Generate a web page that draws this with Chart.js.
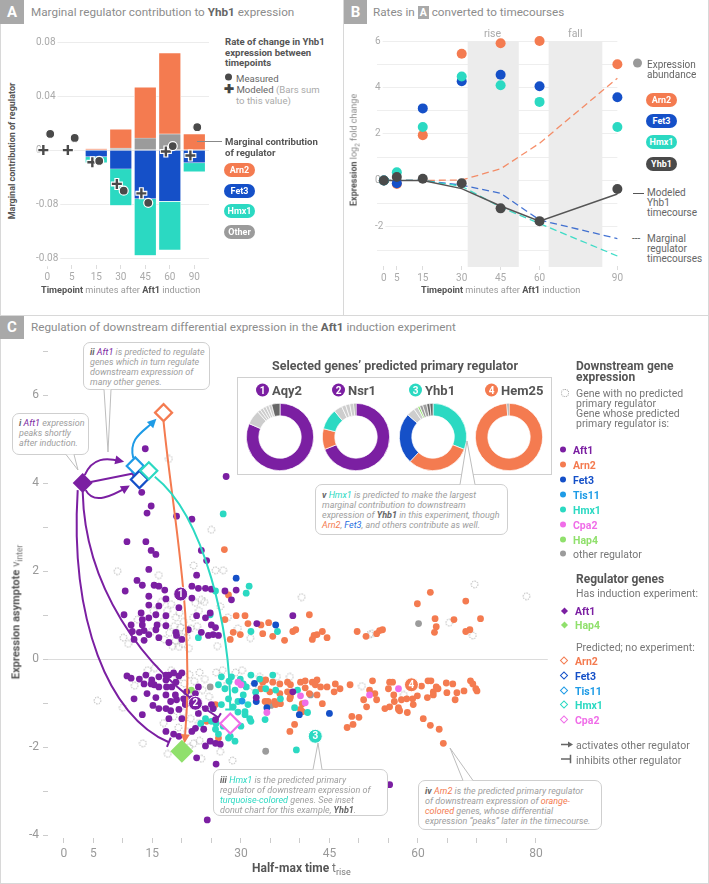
<!DOCTYPE html>
<html>
<head>
<meta charset="utf-8">
<script src="https://cdn.jsdelivr.net/npm/chart.js@4.4.1/dist/chart.umd.min.js"></script>
<style>
  body { margin: 0; background: #fff; font-family: Roboto, Inter, 'Liberation Sans', sans-serif; }
  #fig { position: relative; width: 709px; height: 884px; overflow: hidden; }
  canvas { position: absolute; }
  .t { position: absolute; white-space: nowrap; transform: translateY(-50%); }
  .vt { position: absolute; white-space: nowrap; transform: translate(-50%, -50%) rotate(-90deg); }
  .hdr { position: absolute; background: #a9a9a9; color: #fff; font-weight: 700; font-size: 15px; text-align: center; width: 24px; height: 24px; line-height: 24px; }
  .ptitle { position: absolute; font-size: 11.7px; color: #8c8c8c; white-space: nowrap; transform: translateY(-50%); }
  .pill { position: absolute; width: 31px; height: 14px; border-radius: 7px; color: #fff; font-weight: 700; font-size: 9px; text-align: center; line-height: 14px; }
  .note { position: absolute; box-sizing: border-box; border: 1px solid #cfcfcf; border-radius: 7px; background: #fff; font-style: italic; font-size: 9px; color: #9e9e9e; line-height: 10px; padding: 5px 6px; white-space: nowrap; }
  .note b { color: #666; }
  .line { position: absolute; background: #d8d8d8; }
  .dot { display: inline-block; width: 6px; height: 6px; border-radius: 3px; margin-right: 7px; vertical-align: 1px; }
  .dia { display: inline-block; width: 5px; height: 5px; transform: rotate(45deg); margin: 0 8px 0 2px; vertical-align: 1px; box-sizing: border-box; }
  .lg { font-size: 10.5px; color: #777; }
  .lgb { font-size: 12px; font-weight: 700; color: #555; }
</style>
</head>
<body>
<div id="fig">
  <!-- frame -->
  <div class="line" style="left:0;top:0;width:1px;height:884px"></div>
  <div class="line" style="left:708px;top:0;width:1px;height:884px"></div>
  <div class="line" style="left:0;top:883px;width:709px;height:1px"></div>
  <div class="line" style="left:343px;top:0;width:1px;height:315px"></div>
  <div class="line" style="left:0;top:315px;width:709px;height:1px"></div>

  <!-- panel A -->
  <div class="hdr" style="left:0;top:0">A</div>
  <div class="ptitle" style="left:31px;top:12px">Marginal regulator contribution to <b style="color:#666">Yhb1</b> expression</div>
  <canvas id="chartA" width="196" height="260" style="left:24px;top:25px"></canvas>
  <div class="vt" style="left:12px;top:151px;font-size:9px;font-weight:700;color:#555">Marginal contribution of regulator</div>
  <div class="t" style="left:41px;top:289px;font-size:9.2px;color:#999"><b style="color:#555">Timepoint</b> minutes after <b style="color:#555">Aft1</b> induction</div>
  <div class="t" style="left:225px;top:53px;font-size:9.6px;font-weight:700;color:#555;line-height:10.5px">Rate of change in Yhb1<br>expression between<br>timepoints</div>
  <div class="t" style="left:225px;top:78px;font-size:9.6px;color:#666"><span class="dot" style="background:#4a4a4a;width:7px;height:7px;border-radius:4px;margin-right:4px"></span>Measured</div>
  <div class="t" style="left:224px;top:95px;font-size:9.6px;color:#666;line-height:10.5px"><b style="color:#444;font-size:12px">✚</b> Modeled <span style="color:#aaa">(Bars sum</span><br><span style="color:#aaa;padding-left:12px">to this value)</span></div>
  <div class="line" style="left:197px;top:141px;width:25px;height:1px;background:#888"></div>
  <div class="t" style="left:225px;top:147px;font-size:9.6px;font-weight:700;color:#555;line-height:10.5px">Marginal contribution<br>of regulator</div>
  <div class="pill" style="left:224px;top:163px;background:#f47b50">Arn2</div>
  <div class="pill" style="left:224px;top:184px;background:#1550c8">Fet3</div>
  <div class="pill" style="left:224px;top:204px;background:#2bd9c2">Hmx1</div>
  <div class="pill" style="left:224px;top:225px;background:#9b9b9b">Other</div>

  <!-- panel B -->
  <div class="hdr" style="left:344px;top:0;width:23px">B</div>
  <div class="ptitle" style="left:373px;top:12px">Rates in <span style="background:#a9a9a9;color:#fff;font-weight:700;padding:0 2px;font-size:10.5px">A</span> converted to timecourses</div>
  <canvas id="chartB" width="280" height="261" style="left:345px;top:25px"></canvas>
  <div class="t" style="left:484px;top:33px;font-size:10.5px;color:#aaa">rise</div>
  <div class="t" style="left:568px;top:33px;font-size:10.5px;color:#aaa">fall</div>
  <div class="vt" style="left:355px;top:150px;font-size:9px;color:#888"><b style="color:#555">Expression</b> log<sub style="font-size:6.5px">2</sub> fold change</div>
  <div class="t" style="left:421px;top:289px;font-size:9.2px;color:#999"><b style="color:#555">Timepoint</b> minutes after <b style="color:#555">Aft1</b> induction</div>
  <div class="t" style="left:633px;top:69px;font-size:10px;color:#666;line-height:10px"><span class="dot" style="background:#999;width:9px;height:9px;border-radius:5px;margin-right:5px;vertical-align:10px"></span><span style="display:inline-block">Expression<br>abundance</span></div>
  <div class="pill" style="left:646px;top:93px;background:#f47b50">Arn2</div>
  <div class="pill" style="left:646px;top:114px;background:#1550c8">Fet3</div>
  <div class="pill" style="left:646px;top:135px;background:#2bd9c2">Hmx1</div>
  <div class="pill" style="left:646px;top:157px;background:#4a4a4a">Yhb1</div>
  <div class="line" style="left:633px;top:193px;width:11px;height:1px;background:#555"></div>
  <div class="t" style="left:647px;top:203px;font-size:10px;color:#666;line-height:10px">Modeled<br>Yhb1<br>timecourse</div>
  <div class="t" style="left:632px;top:238px;font-size:10px;color:#555">---</div>
  <div class="t" style="left:647px;top:249px;font-size:10px;color:#666;line-height:10px">Marginal<br>regulator<br>timecourses</div>

  <!-- panel C -->
  <div class="hdr" style="left:0;top:316px;height:23px;line-height:23px">C</div>
  <div class="ptitle" style="left:31px;top:327px">Regulation of downstream differential expression in the <b style="color:#666">Aft1</b> induction experiment</div>
  <canvas id="chartC" width="560" height="550" style="left:0;top:330px"></canvas>
  <div class="vt" style="left:17px;top:612px;font-size:11px;color:#777"><b style="color:#555">Expression asymptote</b> v<sub style="font-size:8.5px">inter</sub></div>
  <div class="t" style="left:252px;top:869px;font-size:12px;color:#777"><b style="color:#555">Half-max time</b> t<sub style="font-size:9px">rise</sub></div>

  <div class="t" style="left:272px;top:365px;font-size:12.5px;font-weight:700;color:#555">Selected genes’ predicted primary regulator</div>
  <div style="position:absolute;left:237px;top:377px;width:315px;height:98px;border:1px solid #d0d0d0;box-sizing:border-box"></div>
  <canvas id="donut1" width="70" height="70" style="left:245px;top:402px"></canvas>
  <canvas id="donut2" width="70" height="70" style="left:321px;top:402px"></canvas>
  <canvas id="donut3" width="70" height="70" style="left:398px;top:402px"></canvas>
  <canvas id="donut4" width="70" height="70" style="left:474px;top:402px"></canvas>
  <div id="donutLabels"></div>

  <!-- notes -->
  <div class="note" style="left:12px;top:413px;width:77px;height:42px;padding-top:4px"><b>i</b> <span style="color:#7b1fa2">Aft1</span> expression<br>peaks shortly<br>after induction.</div>
  <div class="note" style="left:83px;top:342px;width:127px;height:48px;padding-top:4px"><b>ii</b> <span style="color:#7b1fa2">Aft1</span> is predicted to regulate<br>genes which in turn regulate<br>downstream expression of<br>many other genes.</div>
  <div class="note" style="left:315px;top:484px;width:193px;height:51px;padding-top:5px"><b>v</b> <span style="color:#2bd9c2">Hmx1</span> is predicted to make the largest<br>marginal contribution to downstream<br>expression of <b>Yhb1</b> in this experiment, though<br><span style="color:#f47b50">Arn2</span>, <span style="color:#1e6be0">Fet3</span>, and others contribute as well.</div>
  <div class="note" style="left:213px;top:769px;width:175px;height:47px;padding-top:5px"><b>iii</b> <span style="color:#2bd9c2">Hmx1</span> is the predicted primary<br>regulator of downstream expression of<br><span style="color:#2bd9c2">turquoise-colored</span> genes. See inset<br>donut chart for this example, <b>Yhb1</b>.</div>
  <div class="note" style="left:418px;top:780px;width:184px;height:50px;padding-top:5px"><b>iv</b> <span style="color:#f47b50">Arn2</span> is the predicted primary regulator<br>of downstream expression of <span style="color:#f47b50">orange-</span><br><span style="color:#f47b50">colored</span> genes, whose differential<br>expression “peaks” later in the timecourse.</div>
  <svg width="709" height="884" style="position:absolute;left:0;top:0;pointer-events:none">
    <g fill="#fff" stroke="#bdbdbd" stroke-width="1">
      <path d="M66 454.5 L78 470 L74 454.5"/>
      <path d="M104 389.5 L108 452 L111 389.5"/>
      <path d="M460 484.5 L467 441 L475 484.5"/>
      <path d="M313 769.5 L318 743 L322 769.5"/>
      <path d="M463 780.5 L450 748 L473 780.5"/>
    </g>
  </svg>

  <!-- legend C -->
  <div class="t lgb" style="left:576px;top:372px;line-height:11px">Downstream gene<br>expression</div>
  <div class="t lg" style="left:561px;top:399px;line-height:10px"><span style="display:inline-block;width:6px;height:6px;border:1px dotted #999;border-radius:4px;margin-right:7px;vertical-align:10px"></span><span style="display:inline-block">Gene with no predicted<br>primary regulator</span></div>
  <div class="t lg" style="left:576px;top:419px;line-height:10px">Gene whose predicted<br>primary regulator is:</div>
  <div id="geneLegend"></div>
  <div class="t lgb" style="left:576px;top:579px">Regulator genes</div>
  <div class="t lg" style="left:576px;top:593px">Has induction experiment:</div>
  <div class="t lg" style="left:576px;top:647px">Predicted; no experiment:</div>
  <div id="regLegend"></div>
  <div class="t lg" style="left:561px;top:745px"><svg width="12" height="8" style="margin-right:3px"><path d="M0 4 H8" stroke="#666" stroke-width="1.5"/><path d="M12 4 L7 1 L7 7 Z" fill="#666"/></svg>activates other regulator</div>
  <div class="t lg" style="left:561px;top:760px"><svg width="12" height="9" style="margin-right:3px"><path d="M0 4.5 H9" stroke="#666" stroke-width="1.5"/><path d="M9.5 0 V9" stroke="#666" stroke-width="1.5"/></svg>inhibits other regulator</div>
</div>

<script>
// colours
const PURPLE = '#7b1fa2', ORANGE = '#f47b50', BLUE = '#1550c8', LBLUE = '#1e9be6',
      TEAL = '#2bd9c2', PINK = '#f06de8', GREEN = '#90e06c', GRAY = '#9b9b9b', DARK = '#4a4a4a';
const regColor = { Aft1: PURPLE, Arn2: ORANGE, Fet3: BLUE, Tis11: LBLUE, Hmx1: TEAL, Cpa2: PINK, Hap4: GREEN,
                   other: '#cdcdcd', other2: '#9d9d9d', other3: '#666' };

// ---------- Panel A data ----------
const timepointLabels = ['0', '5', '15', '30', '45', '60', '90'];
const contribOther = [0, 0, 0, 0.0015, 0.009, 0.012, 0];
const contribArn2  = [0, 0, 0.001, 0.014, 0.0377, 0.06, 0.012];
const contribFet3  = [0, 0, -0.005, -0.014, -0.036, -0.038, -0.0095];
const contribHmx1  = [0, 0, -0.0045, -0.027, -0.042, -0.036, -0.0065];
const measuredRate = [0.012, 0.009, -0.008, -0.030, -0.039, 0.003, 0.017];
const modeledRate  = [0, 0, -0.009, -0.025, -0.032, -0.001, -0.004];
const yTickValuesA = [0.08, 0.04, 0, -0.04, -0.08];
const yTickLabelsA = ['0.08', '0.04', '0', '-0.08', '-0.08'];

// ---------- Panel B data ----------
const bTimes = [0, 5, 15, 30, 45, 60, 90];
const arn2Abund = [0, -0.15, 1.95, 5.45, 5.9, 6.0, 5.0];
const fet3Abund = [0, -0.12, 3.1, 4.27, 4.55, 4.05, 3.58];
const hmx1Abund = [0, 0.35, 2.3, 4.47, 4.1, 3.38, 2.3];
const yhb1Abund = [0, 0.15, 0.07, -0.12, -1.2, -1.75, -0.37];
const modeledYhb1  = [0, 0, 0, -0.35, -1.1, -1.75, -0.58];
const marginalArn2 = [0, 0, 0, 0.02, 0.5, 1.6, 4.4];
const marginalFet3 = [0, 0, 0, -0.2, -0.55, -1.7, -2.5];
const marginalHmx1 = [0, 0, 0, -0.25, -1.15, -1.85, -3.25];
const riseWindow = [32.3, 52];
const fallWindow = [63.5, 84.2];

// ---------- Panel C data ([t_rise, v_inter]) ----------
const aft1Genes = [[13.8,4.78],[27.5,4.15],[13.2,3.79],[14.8,3.48],[14.1,3.32],[19.1,3.25],[21.7,3.18],[10.7,2.67],[13.9,2.67],
  [14.8,2.47],[15.6,2.38],[23.3,2.47],[24.2,2.24],[14.4,2.04],[22.5,1.91],[12.4,1.79],[13.3,1.68],[10.4,1.55],[15.3,1.68],
  [16.1,1.66],[17.1,1.57],[14.4,1.43],[17.3,1.37],[21.7,1.66],[22.8,1.61],[24.0,1.61],[25.0,1.59],[21.7,1.39],[19.5,1.17],
  [14.4,1.23],[16.1,1.21],[10.2,1.01],[13.1,1.05],[15.6,1.01],[17.3,0.99],[13.3,0.90],[14.4,0.94],[11.4,0.78],[13.3,0.78],
  [15.8,0.78],[17.3,0.76],[11.6,0.63],[13.6,0.65],[14.4,0.56],[15.6,0.67],[19.0,0.61],[13.6,0.43],[24.0,0.94],[25.0,0.78],
  [25.7,0.72],[23.3,0.61],[25.3,0.56],[24.8,1.05],[27.3,1.55],[28.4,1.35],[22.5,0.99],[21.1,0.67],[20.0,0.45],[19.1,0.54],
  [24.5,0.54],[26.2,0.54],[17.8,0.38],[16.1,0.49],[12.8,0.61],[11.9,0.45],[29.2,1.57],[38.8,0.99],[32.7,0.81],
  [10.7,-0.38],[11.4,-0.43],[12.8,-0.45],[13.9,-0.36],[13.6,-0.56],[14.9,-0.47],[15.3,-0.58],[16.1,-0.40],[16.1,-0.63],
  [17.3,-0.47],[17.8,-0.36],[18.6,-0.31],[19.5,-0.38],[20.0,-0.31],[19.0,-0.52],[18.3,-0.63],[11.9,-0.90],[14.1,-0.78],
  [15.6,-0.87],[17.3,-0.81],[18.1,-0.96],[19.1,-0.92],[15.1,-1.05],[16.1,-1.12],[18.1,-1.17],[19.5,-1.14],[13.3,-1.26],
  [20.6,-1.01],[21.7,-0.90],[22.8,-0.63],[22.3,-0.78],[20.8,-0.74],[24.0,-1.12],[25.0,-1.03],[25.7,-1.37],[23.7,-1.59],
  [21.7,-1.64],[17.3,-1.64],[18.6,-1.70],[19.5,-1.75],[24.8,-1.86],[24.0,-1.97],[26.5,-1.93],[22.5,-2.24],[25.8,-2.38],
  [24.3,-3.65],[17.3,-0.36],[14.8,-0.56],[17.4,-0.63],[18.9,-0.81],[20.3,-0.90],[17.3,-1.12],[20.6,-1.03],[22.8,-1.23],
  [25.3,-1.12],[25.7,-1.91],[22.3,-1.57],[17.8,-1.35],[20.0,-1.35],[38.8,-0.74],[32.6,-0.87],[55.2,-2.85]];
const arn2Genes = [[41.6,1.01],[34.7,0.83],[33.7,0.58],[35.4,0.52],[37.4,0.43],[38.8,0.63],[39.3,0.67],[42.1,0.45],[42.9,0.56],
  [43.8,0.63],[44.6,0.49],[42.4,0.54],[49.7,0.63],[51.2,0.52],[53.0,0.58],[53.5,0.65],[54.0,0.67],[31.2,0.81],[27.2,2.49],
  [27.9,1.46],[29.2,0.99],[27.3,0.90],[28.7,0.61],[29.9,0.56],[28.2,0.45],[30.7,0.99],[33.4,0.78],[62.1,1.52],[59.9,1.26],
  [68.1,1.32],[62.9,0.92],[63.1,0.74],[62.8,0.61],[66.1,0.90],[70.6,0.92],[68.1,0.63],[68.8,0.67],
  [33.7,-0.52],[34.2,-0.47],[35.4,-0.52],[36.6,-0.56],[37.9,-0.52],[38.4,-0.58],[40.1,-0.52],[40.9,-0.49],[42.1,-0.52],
  [42.9,-0.47],[42.6,-0.58],[43.5,-0.63],[44.6,-0.63],[46.0,-0.56],[46.8,-0.67],[48.5,-0.58],[33.4,-0.67],[34.9,-0.74],
  [36.6,-0.78],[37.9,-0.74],[40.9,-0.65],[41.6,-0.78],[42.9,-0.81],[45.8,-0.74],[34.6,-0.96],[36.7,-1.01],[35.9,-1.03],
  [38.3,-0.90],[40.4,-1.01],[43.8,-1.01],[40.1,-1.14],[39.1,-1.48],[38.3,-1.64],[48.0,-1.55],[49.0,-1.48],[50.0,-1.32],
  [52.3,-0.49],[51.8,-0.70],[52.7,-0.78],[50.8,-0.92],[51.3,-1.08],[53.0,-0.92],[54.4,-1.12],[55.2,-0.52],[55.7,-0.52],
  [55.0,-0.67],[55.9,-0.81],[56.0,-0.96],[55.2,-1.08],[56.7,-1.10],[56.9,-1.17],[61.7,-0.49],[62.2,-0.49],[64.8,-0.54],
  [65.9,-0.56],[68.9,-0.49],[69.3,-0.56],[69.8,-0.67],[70.0,-0.72],[60.6,-0.61],[63.1,-0.63],[63.4,-0.67],[62.6,-0.74],
  [64.9,-0.76],[66.6,-0.76],[67.8,-0.72],[61.6,-0.87],[62.6,-0.81],[66.3,-0.92],[59.9,-0.83],[59.1,-0.90],[57.2,-0.92],
  [58.1,-0.90],[59.2,-1.03],[56.7,-1.14],[58.2,-1.21],[60.9,-1.35],[62.1,-1.50],[63.6,-1.59],[64.3,-1.91],[24.2,-1.41],
  [26.2,-1.79],[25.7,-1.03],[34.1,-0.96],[35.7,-0.96],[38.4,-0.85],[40.4,-1.19],[48.8,-1.30]];
const fet3Genes = [[29.2,1.84],[35.9,0.78],[32.6,-0.96],[34.4,-1.10],[39.9,-1.26],[45.0,-1.23],[32.3,-0.55]];
const tis11Genes = [[30.2,-0.95]];
const hmx1Genes = [[27.0,3.30],[31.4,1.66],[30.9,1.50],[25.7,1.55],[24.8,1.01],[22.8,0.49],[31.7,0.63],[36.2,0.63],
  [26.7,-0.40],[28.4,-0.40],[29.9,-0.45],[30.4,-0.56],[26.2,-0.58],[27.3,-0.67],[29.0,-0.70],[30.4,-0.81],[27.9,-0.90],
  [29.5,-0.96],[31.2,-1.03],[25.3,-1.12],[26.7,-1.03],[28.7,-1.08],[30.7,-1.19],[24.0,-1.35],[25.8,-1.46],[25.7,-1.59],
  [27.0,-1.52],[30.0,-1.52],[28.2,-1.75],[29.0,-1.86],[23.2,-1.46],[31.7,-0.36],[30.9,-0.63],[25.0,-1.41],[26.2,-1.70],
  [27.9,-1.79],[31.5,-1.35],[30.7,-1.26],[34.1,-1.37],[35.4,-0.36],[33.2,-0.45],[34.2,-0.67],[35.9,-0.70],[36.7,-0.90],
  [39.1,-1.10],[41.3,-1.21],[31.7,-1.41],[39.4,-2.06],[39.6,-0.70],[32.5,-0.75],[28.0,-0.50],[29.5,-1.20]];
const cpa2Genes = [[40.1,-0.83],[40.9,-0.99],[34.4,-1.21],[51.8,-0.81],[56.7,-0.67],[29.5,-0.52],[30.0,-0.58]];
const hap4Genes = [[21.6,-0.70]];
const otherGenes = [[60.1,0.81],[41.8,-0.81],[35.1,-1.05],[34.2,-2.09],[24.8,-0.63],[19.9,-2.2]];
const noRegGenes = [[17.8,4.55],[25.0,2.94],[9.1,2.0],[16.1,1.91],[22.0,2.13],[25.7,2.02],[27.0,2.02],[22.3,1.28],[23.3,1.35],
  [40.3,1.41],[5.7,-0.94],[13.4,-1.91],[23.3,-2.26],[10.1,0.49],[22.0,-1.91],[69.6,1.70],[78.4,1.43],[65.3,0.83],[69.3,0.54],
  [50.5,-0.61],[57.6,-0.81],[52.2,0.58],[33.2,-0.40],[36.1,-0.40],[38.3,-0.40],[51.8,0.56],
  [16.5,1.3],[17.5,1.1],[18.2,1.25],[19.0,0.95],[19.6,1.05],[20.3,0.85],[18.7,0.75],[17.9,0.6],[19.3,0.55],[20.8,0.5],
  [21.5,0.7],[20.1,0.35],[18.4,0.3],[17.0,0.45],[21.9,0.95],[22.6,0.75],[19.8,0.72],[18.9,0.42],[20.6,0.62],[16.8,0.85],
  [21.2,0.25],[19.5,0.28],[22.9,1.1],[23.8,1.3],[15.2,1.1],[14.8,0.62],[12.5,0.9],[10.9,0.35],[26.5,1.2],[27.8,0.95],
  [26.0,0.3],[29.5,0.7],[31.6,0.48],
  [18.2,-0.25],[19.2,-0.45],[20.4,-0.55],[21.3,-0.35],[22.1,-0.5],[23.0,-0.3],[23.9,-0.45],[21.0,-0.8],[22.4,-0.95],
  [23.5,-0.7],[24.6,-0.85],[20.2,-1.2],[21.5,-1.35],[22.9,-1.45],[19.4,-1.55],[18.6,-1.3],[16.9,-1.45],[25.8,-0.3],
  [26.9,-0.25],[27.8,-0.55],[29.1,-0.3],[30.2,-0.25],[32.0,-0.62],[20.9,-1.65],[23.0,-1.85],[21.2,-2.0],[17.6,-2.15],
  [15.4,-0.2],[14.2,-0.25],[12.0,-0.6],[10.0,-1.1],[26.5,-2.1],[28.6,-2.3]];

// regulator genes
const regulatorNames = ['Aft1', 'Tis11', 'Fet3', 'Hmx1', 'Arn2', 'Hap4', 'Cpa2'];
const regulatorTrise = [3.2, 12.1, 12.8, 14.4, 16.9, 20.0, 28.2];
const regulatorVinter = [4.0, 4.39, 4.08, 4.28, 5.6, -2.09, -1.46];
const hasExperiment = [true, false, false, false, false, true, false];
// regulatory links: [from, to, kind]
const regulatorEdges = [
  ['Aft1', 'Tis11', 'act'], ['Aft1', 'Hmx1', 'act'], ['Aft1', 'Fet3', 'act'], ['Tis11', 'Arn2', 'act'],
  ['Arn2', 'Hap4', 'act'], ['Hmx1', 'Cpa2', 'inh'], ['Aft1', 'Hap4', 'inh'], ['Aft1', 'Cpa2', 'inh']];

// numbered example genes
const exampleNames = ['Aqy2', 'Nsr1', 'Yhb1', 'Hem25'];
const exampleRegulator = ['Aft1', 'Aft1', 'Hmx1', 'Arn2'];
const exampleTrise = [19.8, 22.3, 42.6, 58.9];
const exampleVinter = [1.48, -1.0, -1.75, -0.58];

// donut slices (share %, regulator)
const aqy2Share = [81.5, 7, 1.5, 1.5, 1.5, 1.5, 1.5, 4];
const aqy2Regs = ['Aft1', 'other', 'other', 'other', 'other', 'other', 'other', 'other3'];
const nsr1Share = [69, 10, 10, 4, 2, 2, 2, 1];
const nsr1Regs = ['Aft1', 'Arn2', 'Hmx1', 'other', 'other', 'other', 'other', 'other2'];
const yhb1Share = [31, 31, 24.5, 4, 2, 1, 1.5, 2, 1.5, 1.5];
const yhb1Regs = ['Hmx1', 'Arn2', 'Fet3', 'other', 'other', 'Hap4', 'other2', 'other2', 'other3', 'other3'];
const hem25Share = [99, 1];
const hem25Regs = ['Arn2', 'other2'];

Chart.defaults.font.family = 'Roboto, Inter, sans-serif';
Chart.defaults.animation = false;
Chart.defaults.events = [];
Chart.defaults.plugins.legend.display = false;
Chart.defaults.plugins.tooltip.enabled = false;

// ================= Panel A =================
const idx = timepointLabels.map((_, i) => i);
const barSet = (label, vals, color) => ({
  type: 'bar', label, data: idx.map(i => ({ x: i, y: vals[i] })), backgroundColor: color,
  borderColor: '#fff', borderWidth: 0.7, barThickness: 22, stack: 'bars', clip: false
});
new Chart(document.getElementById('chartA'), {
  data: {
    datasets: [
      { type: 'scatter', label: 'Measured', data: idx.map(i => ({ x: i + 0.12, y: measuredRate[i] })),
        pointRadius: 4.5, backgroundColor: DARK, borderColor: '#fff', borderWidth: 1.2, stack: 'm', clip: false },
      { type: 'scatter', label: 'Modeled', data: idx.map(i => ({ x: i - 0.16, y: modeledRate[i] })),
        pointStyle: 'cross', pointRadius: 5, borderColor: DARK, borderWidth: 2.4, stack: 'p', clip: false },
      { type: 'scatter', label: 'Modeled outline', data: idx.map(i => ({ x: i - 0.16, y: modeledRate[i] })),
        pointStyle: 'cross', pointRadius: 6, borderColor: '#fff', borderWidth: 5, stack: 'q', clip: false },
      barSet('Other', contribOther, GRAY),
      barSet('Fet3', contribFet3, BLUE),
      barSet('Arn2', contribArn2, ORANGE),
      barSet('Hmx1', contribHmx1, TEAL)
    ]
  },
  options: {
    responsive: false,
    layout: { padding: { top: 17, right: 2, left: 0, bottom: 0 } },
    scales: {
      x: { type: 'linear', min: -0.5, max: 6.6, stacked: true, offset: false,
        afterBuildTicks: ax => { ax.ticks = idx.map(v => ({ value: v })); },
        ticks: { autoSkip: false, maxRotation: 0, color: '#aaa', font: { size: 10 }, padding: 2,
          callback: (v, i) => timepointLabels[i] },
        grid: { offset: false, drawOnChartArea: false, tickLength: 4, tickColor: '#ddd' }, border: { display: false },
        afterFit: s => { s.height = 20; } },
      y: { min: -0.085, max: 0.08, stacked: true,
        afterBuildTicks: ax => { ax.ticks = yTickValuesA.map(v => ({ value: v })); },
        ticks: { mirror: true, padding: 1, color: '#aaa', font: { size: 10 },
          showLabelBackdrop: true, backdropColor: '#fff', backdropPadding: 2,
          callback: (v, i) => yTickLabelsA[i] },
        grid: { color: '#ececec', drawTicks: false }, border: { display: false },
        afterFit: s => { s.width = 4; } }
    }
  }
});

// ================= Panel B =================
const pts = vals => bTimes.map((t, i) => ({ x: t, y: vals[i] }));
const abundSet = (label, vals, color) => ({ type: 'scatter', label, data: pts(vals), pointRadius: 5,
  backgroundColor: color, borderWidth: 0, clip: false });
const dashSet = (label, vals, color) => ({ type: 'line', label, data: pts(vals), borderColor: color,
  borderWidth: 1.3, borderDash: [7, 4], pointRadius: 0, fill: false, clip: false });
const shadeB = {
  id: 'shadeB',
  beforeDatasetsDraw(chart) {
    const { ctx, chartArea, scales: { x, y } } = chart;
    ctx.save();
    ctx.fillStyle = '#ececec';
    for (const [a, b] of [riseWindow, fallWindow]) {
      const x0 = x.getPixelForValue(a), x1 = x.getPixelForValue(b), y0 = y.getPixelForValue(6);
      ctx.fillRect(x0, y0, x1 - x0, chartArea.bottom + 1 - y0);
    }
    ctx.restore();
  }
};
new Chart(document.getElementById('chartB'), {
  data: {
    datasets: [
      abundSet('Yhb1', yhb1Abund, DARK),
      abundSet('Hmx1', hmx1Abund, TEAL),
      abundSet('Fet3', fet3Abund, BLUE),
      abundSet('Arn2', arn2Abund, ORANGE),
      { type: 'line', label: 'Modeled Yhb1', data: pts(modeledYhb1), borderColor: '#555', borderWidth: 1.5,
        pointRadius: 0, fill: false, clip: false },
      dashSet('Marginal Hmx1', marginalHmx1, 'rgba(43,217,194,0.9)'),
      dashSet('Marginal Fet3', marginalFet3, 'rgba(21,80,200,0.8)'),
      dashSet('Marginal Arn2', marginalArn2, 'rgba(244,123,80,0.85)')
    ]
  },
  options: {
    responsive: false,
    layout: { padding: { top: 16, right: 7, left: 0, bottom: 0 } },
    scales: {
      x: { type: 'linear', min: -3.8, max: 90,
        afterBuildTicks: ax => { ax.ticks = bTimes.map(v => ({ value: v })); },
        ticks: { autoSkip: false, maxRotation: 0, color: '#aaa', font: { size: 10 }, padding: 2 },
        grid: { drawOnChartArea: false, tickLength: 4, tickColor: '#ddd' }, border: { display: false },
        afterFit: s => { s.height = 20; } },
      y: { type: 'linear', min: -3.68, max: 6,
        afterBuildTicks: ax => { ax.ticks = []; for (let v = -3; v <= 6; v++) ax.ticks.push({ value: v }); },
        ticks: { mirror: true, padding: 1, color: '#aaa', font: { size: 10 },
          showLabelBackdrop: true, backdropColor: '#fff', backdropPadding: 2,
          callback: v => (v % 2 === 0 ? String(v) : '') },
        grid: { color: '#eeeeee', drawTicks: false }, border: { display: false },
        afterFit: s => { s.width = 29; } }
    }
  },
  plugins: [shadeB]
});

// ================= Panel C =================
const dotted = document.createElement('canvas');
dotted.width = 9; dotted.height = 9;
{
  const g = dotted.getContext('2d');
  g.setLineDash([1.3, 1.3]);
  g.strokeStyle = '#9a9a9a';
  g.lineWidth = 0.9;
  g.beginPath(); g.arc(4.5, 4.5, 3.4, 0, Math.PI * 2); g.stroke();
}
const xy = arr => arr.map(([x, y]) => ({ x, y }));
const geneSet = (label, arr, color) => ({ type: 'scatter', label, data: xy(arr), pointRadius: 3.4,
  backgroundColor: color, borderWidth: 0 });

// curve geometry (pixel offsets: start, end, control handles)
const edgeShape = {
  'Aft1>Tis11': { s: [2, -8], e: [-15, -5], c1: [8, -18], c2: [-14, -3] },
  'Aft1>Hmx1': { s: [8, -1], e: [-12, 2], c1: [0, 0], c2: [0, 0] },
  'Aft1>Fet3': { s: [3, 7], e: [-13, 8], c1: [8, 15], c2: [-14, 8] },
  'Tis11>Arn2': { s: [-2, -8], e: [-10, 9], c1: [-5, -20], c2: [-10, 10] },
  'Arn2>Hap4': { s: [0, 9], e: [3, -12], c1: [10, 100], c2: [10, -120] },
  'Hmx1>Cpa2': { s: [6, 6], e: [0, -14], c1: [50, 40], c2: [0, -80] },
  'Aft1>Hap4': { s: [-5, 7], e: [-13, -9], c1: [-8, 130], c2: [-60, -25] },
  'Aft1>Cpa2': { s: [0, 9], e: [-12, -6], c1: [2, 90], c2: [-80, -50] }
};
const regPix = (chart, name) => {
  const i = regulatorNames.indexOf(name);
  return [chart.scales.x.getPixelForValue(regulatorTrise[i]), chart.scales.y.getPixelForValue(regulatorVinter[i])];
};
const networkPlugin = {
  id: 'network',
  afterDatasetDraw(chart, args) {
    if (args.index !== 1) return;
    const ctx = chart.ctx;
    ctx.save();
    ctx.lineWidth = 2;
    for (const [from, to, kind] of regulatorEdges) {
      const sh = edgeShape[from + '>' + to];
      const [fx, fy] = regPix(chart, from), [tx, ty] = regPix(chart, to);
      const sx = fx + sh.s[0], sy = fy + sh.s[1], ex = tx + sh.e[0], ey = ty + sh.e[1];
      const c1x = sx + sh.c1[0], c1y = sy + sh.c1[1], c2x = ex + sh.c2[0], c2y = ey + sh.c2[1];
      const col = regColor[from];
      ctx.strokeStyle = col; ctx.fillStyle = col;
      ctx.beginPath(); ctx.moveTo(sx, sy); ctx.bezierCurveTo(c1x, c1y, c2x, c2y, ex, ey); ctx.stroke();
      let dx = ex - c2x, dy = ey - c2y;
      if (Math.abs(dx) + Math.abs(dy) < 0.01) { dx = ex - sx; dy = ey - sy; }
      const len = Math.hypot(dx, dy), ux = dx / len, uy = dy / len;
      if (kind === 'act') {
        ctx.beginPath();
        ctx.moveTo(ex + ux * 4, ey + uy * 4);
        ctx.lineTo(ex - ux * 5 - uy * 4.5, ey - uy * 5 + ux * 4.5);
        ctx.lineTo(ex - ux * 5 + uy * 4.5, ey - uy * 5 - ux * 4.5);
        ctx.closePath(); ctx.fill();
      } else {
        ctx.beginPath();
        ctx.moveTo(ex - uy * 5, ey + ux * 5);
        ctx.lineTo(ex + uy * 5, ey - ux * 5);
        ctx.stroke();
      }
    }
    ctx.restore();
  },
  afterDatasetsDraw(chart) {
    const { ctx, scales: { x, y } } = chart;
    ctx.save();
    exampleNames.forEach((n, i) => {
      const px = x.getPixelForValue(exampleTrise[i]), py = y.getPixelForValue(exampleVinter[i]);
      ctx.fillStyle = regColor[exampleRegulator[i]];
      ctx.strokeStyle = '#fff'; ctx.lineWidth = 1;
      ctx.beginPath(); ctx.arc(px, py, 7, 0, Math.PI * 2); ctx.fill(); ctx.stroke();
      ctx.fillStyle = '#fff'; ctx.font = 'bold 10px Roboto, sans-serif';
      ctx.textAlign = 'center'; ctx.textBaseline = 'middle';
      ctx.fillText(String(i + 1), px, py + 0.5);
    });
    ctx.restore();
  }
};
const cXLabels = [0, 5, 15, 30, 45, 60, 80];
new Chart(document.getElementById('chartC'), {
  data: {
    datasets: [
      { type: 'scatter', label: 'Regulators',
        data: regulatorNames.map((n, i) => ({ x: regulatorTrise[i], y: regulatorVinter[i] })),
        pointStyle: 'rectRot',
        pointRadius: regulatorNames.map(n => ({ Aft1: 10, Hap4: 11.5, Cpa2: 10 })[n] || 8.5),
        pointBackgroundColor: regulatorNames.map((n, i) => hasExperiment[i] ? regColor[n] : '#fff'),
        pointBorderColor: regulatorNames.map(n => regColor[n]),
        pointBorderWidth: regulatorNames.map((n, i) => hasExperiment[i] ? 0 : 2.2), clip: false },
      geneSet('Aft1', aft1Genes, PURPLE),
      geneSet('Hap4', hap4Genes, GREEN),
      geneSet('Cpa2', cpa2Genes, PINK),
      geneSet('Tis11', tis11Genes, LBLUE),
      geneSet('Fet3', fet3Genes, BLUE),
      geneSet('Hmx1', hmx1Genes, TEAL),
      geneSet('Arn2', arn2Genes, ORANGE),
      geneSet('other', otherGenes, GRAY),
      { type: 'scatter', label: 'none', data: xy(noRegGenes), pointStyle: dotted }
    ]
  },
  options: {
    responsive: false,
    layout: { padding: { top: 6, right: 7, left: 0, bottom: 0 } },
    scales: {
      x: { type: 'linear', min: -2.68, max: 82,
        afterBuildTicks: ax => { ax.ticks = []; for (let v = 0; v <= 80; v += 5) ax.ticks.push({ value: v }); },
        ticks: { autoSkip: false, maxRotation: 0, color: '#999', font: { size: 12 }, padding: 4,
          callback: v => (cXLabels.includes(v) ? String(v) : '') },
        grid: { color: 'transparent', tickColor: '#ccc', tickLength: 5 }, border: { display: false },
        afterFit: s => { s.height = 42; } },
      y: { type: 'linear', min: -4.06, max: 7.2,
        afterBuildTicks: ax => { ax.ticks = []; for (let v = -4; v <= 7; v++) ax.ticks.push({ value: v }); },
        ticks: { color: '#999', font: { size: 12 }, padding: 4,
          callback: v => (v % 2 === 0 ? String(v) : '') },
        grid: { color: c => (c.tick && c.tick.value === 0 ? '#dcdcdc' : 'transparent'), tickColor: '#ccc', tickLength: 5 },
        border: { display: false },
        afterFit: s => { s.width = 48; } }
    }
  },
  plugins: [networkPlugin]
});

// ================= Donuts =================
const donutData = [[aqy2Share, aqy2Regs], [nsr1Share, nsr1Regs], [yhb1Share, yhb1Regs], [hem25Share, hem25Regs]];
donutData.forEach(([share, regs], k) => {
  new Chart(document.getElementById('donut' + (k + 1)), {
    type: 'doughnut',
    data: { labels: regs, datasets: [{ data: share, backgroundColor: regs.map(r => regColor[r]),
      borderColor: '#fff', borderWidth: 0.7 }] },
    options: { responsive: false, cutout: '63%', layout: { padding: 1 } }
  });
});
const donutCenters = [280, 356, 433, 509];
let html = '';
exampleNames.forEach((n, i) => {
  html += `<div class="t" style="left:${donutCenters[i] - 24}px;top:390px;font-size:13px;font-weight:700;color:#555">` +
    `<span style="display:inline-block;width:13px;height:13px;border-radius:7px;background:${regColor[exampleRegulator[i]]};` +
    `color:#fff;font-size:10px;text-align:center;line-height:13px;margin-right:3px;vertical-align:1px">${i + 1}</span>${n}</div>`;
});
document.getElementById('donutLabels').innerHTML = html;

// ================= Legend C =================
const legendGenes = ['Aft1', 'Arn2', 'Fet3', 'Tis11', 'Hmx1', 'Cpa2', 'Hap4'];
html = '';
legendGenes.forEach((g, i) => {
  html += `<div class="t lg" style="left:560px;top:${450 + i * 15}px;font-weight:700;color:${regColor[g]}">` +
    `<span class="dot" style="background:${regColor[g]}"></span>${g}</div>`;
});
html += `<div class="t lg" style="left:560px;top:554px"><span class="dot" style="background:${GRAY}"></span>other regulator</div>`;
const expRegs = ['Aft1', 'Hap4'], predRegs = ['Arn2', 'Fet3', 'Tis11', 'Hmx1', 'Cpa2'];
expRegs.forEach((g, i) => {
  html += `<div class="t lg" style="left:560px;top:${611 + i * 14}px;font-weight:700;color:${regColor[g]}">` +
    `<span class="dia" style="background:${regColor[g]}"></span>${g}</div>`;
});
predRegs.forEach((g, i) => {
  html += `<div class="t lg" style="left:560px;top:${661 + i * 14.8}px;font-weight:700;color:${regColor[g]}">` +
    `<span class="dia" style="border:1.2px solid ${regColor[g]};width:6px;height:6px;margin-left:1px"></span>${g}</div>`;
});
document.getElementById('regLegend').innerHTML = html;
</script>
</body>
</html>
